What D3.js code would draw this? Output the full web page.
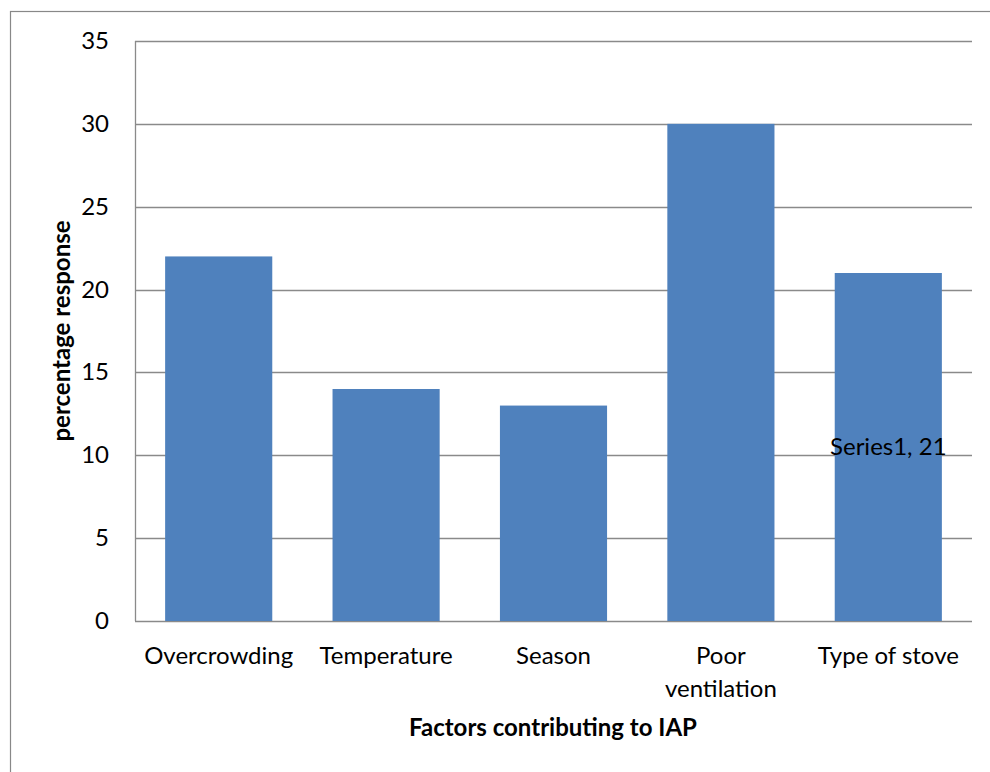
<!DOCTYPE html>
<html><head><meta charset="utf-8">
<script src="https://cdn.jsdelivr.net/npm/d3@7"></script>
<style>body{margin:0;background:#fff}svg{display:block}text{font-family:Lato,"Open Sans",sans-serif}</style>
</head><body>
<svg id="c" width="990" height="772"></svg>
<script>
const categories = ["Overcrowding","Temperature","Season","Poor ventilation","Type of stove"];
const categoryLines = [["Overcrowding"],["Temperature"],["Season"],["Poor","ventilation"],["Type of stove"]];
const values = [22,14,13,30,21];
const yTicks = [0,5,10,15,20,25,30,35];
const seriesName = "Series1";

const svg = d3.select("#c");
const m = {l:135, r:972, t:41, b:621};
svg.append("rect").attr("x",10.5).attr("y",11.5).attr("width",1000).attr("height",800)
  .attr("fill","none").attr("stroke","#888").attr("stroke-width",1.2);

const x = d3.scaleBand().domain(categories).range([m.l,m.r]).paddingInner(0.36).paddingOuter(0.18);
const y = d3.scaleLinear().domain([0,35]).range([m.b,m.t]);

svg.append("g").selectAll("line").data(yTicks).join("line")
  .attr("x1",m.l).attr("x2",m.r).attr("y1",d=>Math.round(y(d))+0.5).attr("y2",d=>Math.round(y(d))+0.5)
  .attr("stroke","#8a8a8a").attr("stroke-width",1.3);
svg.append("line").attr("x1",m.l+0.5).attr("x2",m.l+0.5).attr("y1",m.t).attr("y2",m.b)
  .attr("stroke","#8a8a8a").attr("stroke-width",1.3);

svg.append("g").selectAll("rect").data(values).join("rect")
  .attr("x",(d,i)=>x(categories[i])).attr("width",x.bandwidth())
  .attr("y",d=>y(d)).attr("height",d=>y(0)-y(d)).attr("fill","#4F81BD");

svg.append("g").selectAll("text").data(yTicks).join("text")
  .attr("x",m.l-26).attr("y",d=>y(d)+8).attr("text-anchor","end")
  .attr("font-size",24).text(d=>d);

categoryLines.forEach((lines,i)=>{
  const cx = x(categories[i])+x.bandwidth()/2;
  const t = svg.append("text").attr("text-anchor","middle").attr("font-size",24)
    .attr("x",cx).attr("y",664);
  lines.forEach((ln,j)=>t.append("tspan").attr("x",cx).attr("dy",j?33:0).text(ln));
});

// data label
const li = 4;
svg.append("text").attr("text-anchor","middle").attr("font-size",24)
  .attr("x",x(categories[li])+x.bandwidth()/2).attr("y",y(10))
  .text(seriesName+", "+values[li]);

svg.append("text").attr("text-anchor","middle").attr("font-size",24).attr("font-weight","bold")
  .attr("transform","translate(70,"+((m.t+m.b)/2)+") rotate(-90)").text("percentage response");
svg.append("text").attr("text-anchor","middle").attr("font-size",24).attr("font-weight","bold")
  .attr("x",553).attr("y",736).text("Factors contributing to IAP");
</script>
</body></html>
